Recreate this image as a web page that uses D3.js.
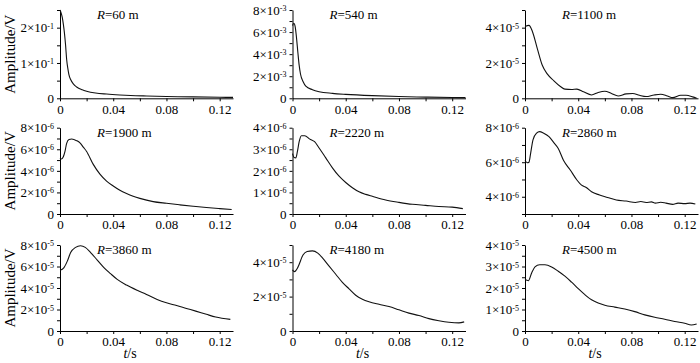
<!DOCTYPE html>
<html>
<head>
<meta charset="utf-8">
<script src="https://cdn.jsdelivr.net/npm/d3@7"></script>
<style>
body { margin: 0; background: #fff; }
text { font-family: "Liberation Serif", "Times New Roman", serif; fill: #000; }
</style>
</head>
<body>
<svg id="chart" width="700" height="363"></svg>
<script>
// distances (m) and exponent of the y unit for each panel
var distances = ["60", "540", "1100", "1900", "2220", "2860", "3860", "4180", "4500"];
var exponents = [-1, -3, -5, -6, -6, -6, -5, -5, -5];
var yMin = [0, 0, 0, 0, 0, 3, 0, 0, 0];
var yMax = [2.5, 8, 5, 8, 4, 8, 8, 5, 4];
var yLabelTicks = [[0, 1, 2], [0, 2, 4, 6, 8], [0, 2, 4], [0, 2, 4, 6, 8], [0, 1, 2, 3, 4], [4, 6, 8], [0, 2, 4, 6, 8], [0, 2, 4], [0, 1, 2, 3, 4]];
var yMinorStep = [0.5, 1, 1, 1, 0.5, 1, 1, 1, 0.5];
var xLabelTicks = [0, 0.04, 0.08, 0.12];
var xAllTicks = [0, 0.02, 0.04, 0.06, 0.08, 0.10, 0.12];

// time (s) and amplitude (in units of 10^exponent V)
var t60 = [0, 0.0008, 0.0017, 0.0025, 0.0033, 0.0042, 0.005, 0.006, 0.0067, 0.008, 0.01, 0.0125, 0.0167, 0.02, 0.0267, 0.035, 0.045, 0.053, 0.065, 0.08, 0.1, 0.12, 0.13];
var a60 = [2.5, 2.42, 2.29, 2.1, 1.86, 1.5, 1.1, 0.82, 0.67, 0.53, 0.41, 0.32, 0.24, 0.2, 0.15, 0.12, 0.095, 0.08, 0.065, 0.05, 0.04, 0.03, 0.025];
var t540 = [0, 0.001, 0.002, 0.003, 0.004, 0.005, 0.006, 0.008, 0.01, 0.015, 0.02, 0.03, 0.04, 0.06, 0.08, 0.1, 0.12, 0.13];
var a540 = [6.6, 6.8, 6.5, 5.5, 4.2, 3.0, 2.2, 1.5, 1.1, 0.78, 0.6, 0.45, 0.36, 0.24, 0.16, 0.11, 0.07, 0.06];
var t1100 = [0, 0.003, 0.0055, 0.0092, 0.013, 0.0167, 0.0216, 0.0266, 0.03, 0.035, 0.039, 0.044, 0.05, 0.055, 0.06, 0.065, 0.07, 0.076, 0.081, 0.086, 0.091, 0.097, 0.102, 0.107, 0.111, 0.117, 0.121, 0.126, 0.129];
var a1100 = [4.07, 4.13, 3.8, 2.83, 1.87, 1.38, 1.0, 0.67, 0.52, 0.5, 0.52, 0.37, 0.19, 0.33, 0.40, 0.27, 0.13, 0.25, 0.27, 0.17, 0.1, 0.19, 0.23, 0.13, 0.04, 0.17, 0.17, 0.08, 0.0];
var t1900 = [0, 0.00125, 0.0025, 0.00375, 0.005, 0.0068, 0.0088, 0.0125, 0.015, 0.0175, 0.02, 0.025, 0.03, 0.035, 0.04, 0.045, 0.05, 0.055, 0.06, 0.07, 0.08, 0.09, 0.1, 0.11, 0.12, 0.129];
var a1900 = [5.2, 5.1, 5.3, 5.8, 6.55, 6.9, 6.95, 6.8, 6.6, 6.2, 5.8, 4.6, 3.7, 3.05, 2.6, 2.2, 1.9, 1.65, 1.45, 1.15, 0.99, 0.85, 0.72, 0.6, 0.5, 0.42];
var t2220 = [0, 0.0012, 0.0025, 0.0037, 0.005, 0.0067, 0.0092, 0.013, 0.0166, 0.02, 0.025, 0.03, 0.035, 0.04, 0.045, 0.05, 0.055, 0.06, 0.07, 0.08, 0.09, 0.1, 0.11, 0.12, 0.128];
var a2220 = [2.8, 2.62, 2.6, 2.9, 3.35, 3.63, 3.63, 3.47, 3.35, 3.06, 2.6, 2.14, 1.75, 1.46, 1.22, 1.03, 0.91, 0.82, 0.65, 0.54, 0.45, 0.4, 0.35, 0.32, 0.25];
var t2860 = [0, 0.0017, 0.003, 0.0042, 0.006, 0.0087, 0.011, 0.014, 0.018, 0.0215, 0.025, 0.029, 0.034, 0.039, 0.0425, 0.046, 0.05, 0.056, 0.062, 0.0686, 0.076, 0.083, 0.087, 0.091, 0.095, 0.098, 0.102, 0.106, 0.111, 0.115, 0.12, 0.124, 0.128];
var a2860 = [6.1, 5.97, 6.0, 6.5, 7.3, 7.68, 7.77, 7.68, 7.48, 7.15, 6.8, 6.1, 5.55, 4.97, 4.67, 4.54, 4.29, 4.1, 3.96, 3.81, 3.75, 3.67, 3.72, 3.67, 3.7, 3.63, 3.68, 3.63, 3.56, 3.63, 3.6, 3.63, 3.58];
var t3860 = [0, 0.003, 0.0055, 0.008, 0.0117, 0.0154, 0.019, 0.023, 0.028, 0.033, 0.038, 0.043, 0.05, 0.058, 0.065, 0.073, 0.08, 0.0876, 0.095, 0.102, 0.11, 0.117, 0.128];
var a3860 = [5.65, 5.9, 6.5, 7.3, 7.78, 7.93, 7.78, 7.3, 6.6, 5.9, 5.33, 4.8, 4.27, 3.78, 3.4, 2.93, 2.62, 2.37, 2.1, 1.85, 1.55, 1.3, 1.08];
var t4180 = [0, 0.0015, 0.004, 0.008, 0.011, 0.015, 0.019, 0.0225, 0.0275, 0.0325, 0.0375, 0.0425, 0.0475, 0.0525, 0.0575, 0.065, 0.0725, 0.08, 0.0875, 0.095, 0.1025, 0.11, 0.1175, 0.125, 0.129];
var a4180 = [3.55, 3.45, 3.7, 4.43, 4.62, 4.66, 4.53, 4.25, 3.77, 3.3, 2.83, 2.45, 2.08, 1.85, 1.7, 1.55, 1.42, 1.23, 1.04, 0.9, 0.72, 0.6, 0.51, 0.47, 0.53];
var t4500 = [0, 0.0025, 0.005, 0.0075, 0.011, 0.015, 0.02, 0.025, 0.03, 0.035, 0.04, 0.045, 0.05, 0.055, 0.06, 0.0675, 0.075, 0.0825, 0.09, 0.0975, 0.105, 0.1125, 0.12, 0.125, 0.129];
var a4500 = [2.39, 2.34, 2.7, 2.98, 3.08, 3.08, 2.98, 2.78, 2.55, 2.27, 1.97, 1.69, 1.45, 1.3, 1.2, 1.11, 1.02, 0.9, 0.75, 0.64, 0.55, 0.44, 0.36, 0.28, 0.33];

var times = [t60, t540, t1100, t1900, t2220, t2860, t3860, t4180, t4500];
var amps = [a60, a540, a1100, a1900, a2220, a2860, a3860, a4180, a4500];

var svg = d3.select("#chart");
var colX = [60, 292.5, 525];
var rowTop = [10, 127.7, 245];
var rowBottom = [98.3, 214, 331];
var plotW = 173;

distances.forEach(function(dist, i) {
  var col = i % 3, row = Math.floor(i / 3);
  var g = svg.append("g").attr("transform", "translate(" + colX[col] + ",0)");

  var x = d3.scaleLinear().domain([0, 0.13]).range([0, plotW]);
  var y = d3.scaleLinear().domain([yMin[i], yMax[i]]).range([rowBottom[row], rowTop[row]]);

  // x axis
  var xg = g.append("g")
    .attr("transform", "translate(0," + rowBottom[row] + ")")
    .call(d3.axisBottom(x).tickValues(xAllTicks).tickSize(3).tickPadding(3).tickSizeOuter(0)
      .tickFormat(function(d) {
        var lab = xLabelTicks.find(function(v) { return Math.abs(v - d) < 1e-9; });
        return lab === undefined ? "" : (lab === 0 ? "0" : d3.format(".2f")(lab));
      }))
    .attr("font-family", null)
    .attr("font-size", 13);

  // y axis
  var yTicks = d3.range(yMin[i], yMax[i] + 1e-9, yMinorStep[i]);
  var yg = g.append("g")
    .call(d3.axisLeft(y).tickValues(yTicks).tickSize(3).tickPadding(3).tickSizeOuter(0)
      .tickFormat(function() { return ""; }))
    .attr("font-family", null)
    .attr("font-size", 13);
  yg.selectAll(".tick text").each(function(d) {
    var isMajor = yLabelTicks[i].some(function(v) { return Math.abs(v - d) < 1e-9; });
    if (!isMajor) return;
    var t = d3.select(this);
    if (d === 0) { t.text("0"); return; }
    t.append("tspan").text(d + "\u00d710");
    t.append("tspan").attr("dy", "-0.45em").attr("font-size", 8).text(exponents[i]);
  });
  g.selectAll(".domain, .tick line").attr("stroke", "#000").attr("stroke-width", 1);

  // waveform
  var pts = times[i].map(function(tv, k) { return [tv, amps[i][k]]; });
  g.append("path")
    .datum(pts)
    .attr("fill", "none")
    .attr("stroke", "#111")
    .attr("stroke-width", 1.1)
    .attr("d", d3.line()
      .x(function(d) { return x(d[0]); })
      .y(function(d) { return y(d[1]); })
      .curve(d3.curveMonotoneX));

  // distance label
  var lab = g.append("text")
    .attr("x", 37)
    .attr("y", rowTop[row] + 9)
    .style("font-size", "13px");
  lab.append("tspan").style("font-style", "italic").text("R");
  lab.append("tspan").text("=" + dist + " m");

  if (col === 0) {
    svg.append("text")
      .attr("transform", "translate(15," + ((rowTop[row] + rowBottom[row]) / 2) + ") rotate(-90)")
      .attr("text-anchor", "middle")
      .style("font-size", "15px")
      .text("Amplitude/V");
  }
  if (row === 2) {
    var tl = g.append("text")
      .attr("x", 70)
      .attr("y", 358)
      .attr("text-anchor", "middle")
      .style("font-size", "14px");
    tl.append("tspan").style("font-style", "italic").text("t");
    tl.append("tspan").text("/s");
  }
});
</script>
</body>
</html>
